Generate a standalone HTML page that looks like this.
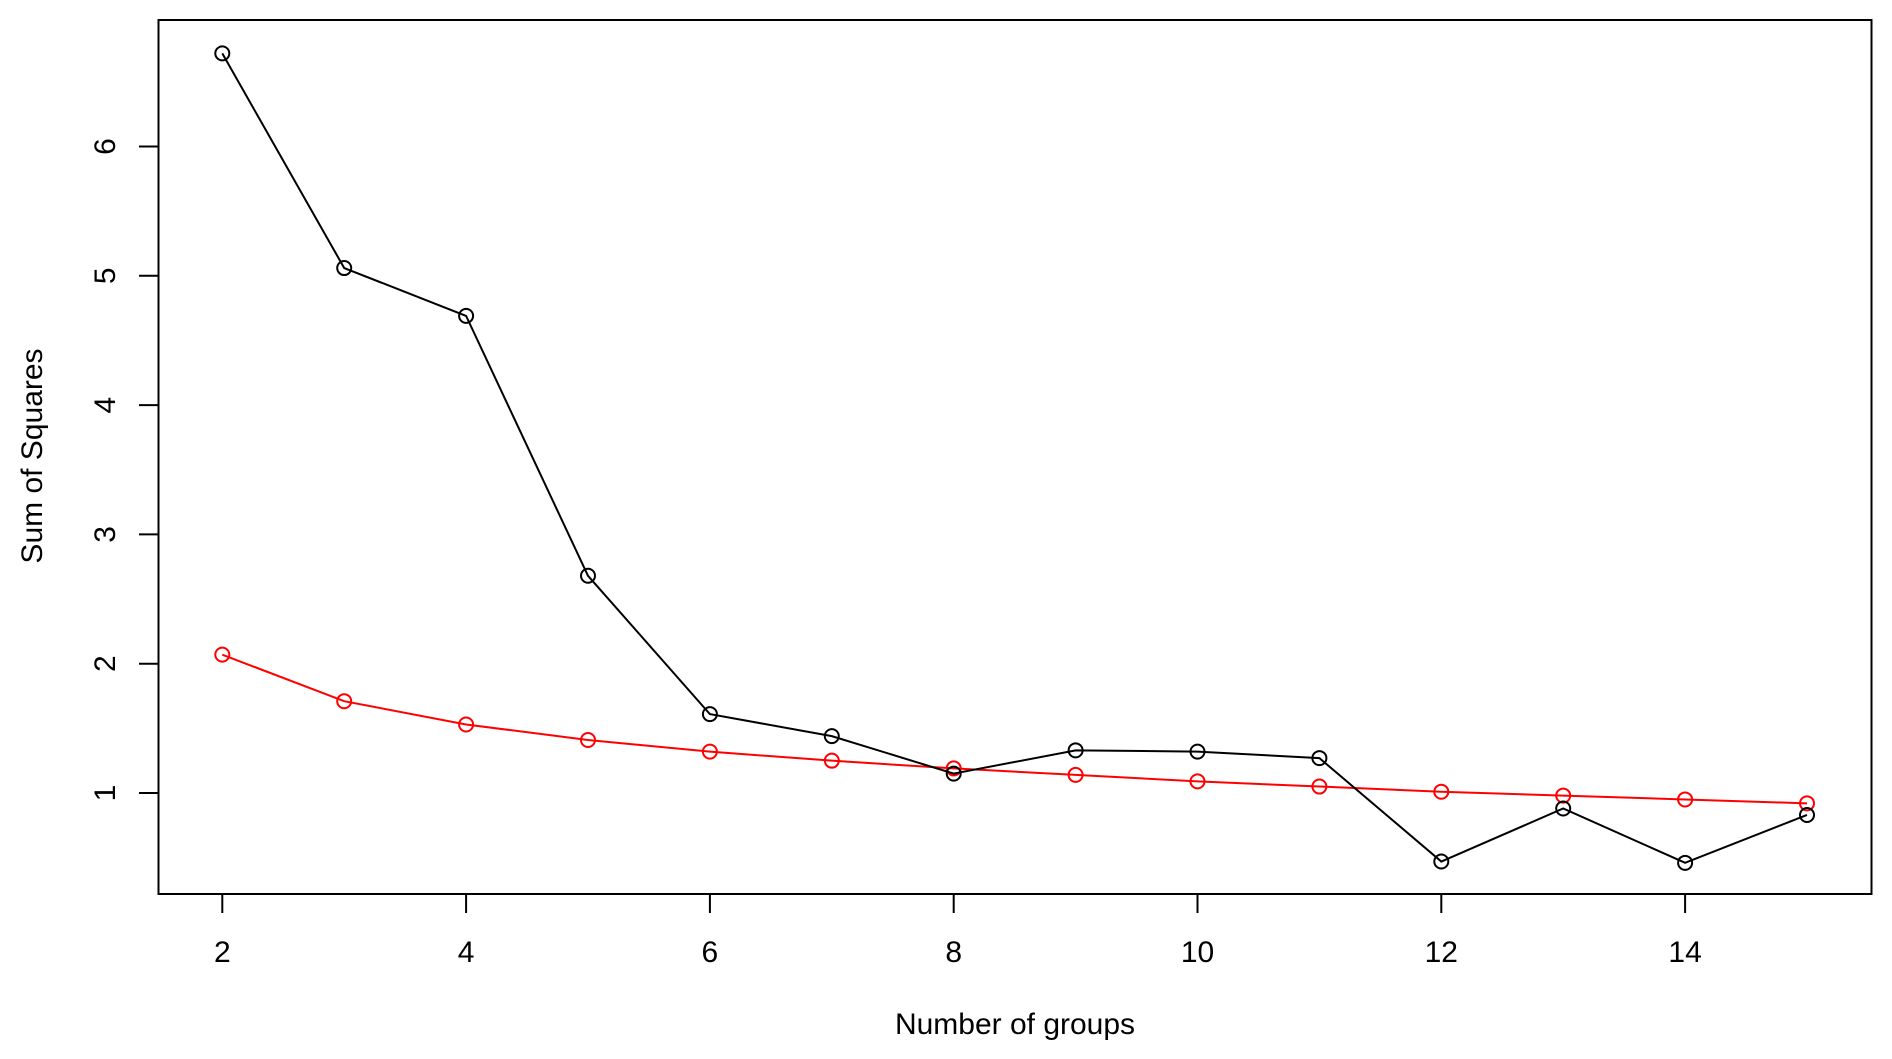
<!DOCTYPE html>
<html><head><meta charset="utf-8"><style>html,body{margin:0;padding:0;background:#fff}svg{display:block}</style></head>
<body>
<svg id="s" width="1892" height="1059" xmlns="http://www.w3.org/2000/svg" font-family="Liberation Sans, Arial, sans-serif">
<rect x="0" y="0" width="1892" height="1059" fill="#fff"/>
<rect x="158.5" y="20" width="1713" height="874" fill="none" stroke="#000" stroke-width="2"/>
<g id="g"></g>
<text x="1015" y="1034" font-size="30" text-anchor="middle">Number of groups</text>
<text transform="translate(42,456) rotate(-90)" font-size="30" text-anchor="middle">Sum of Squares</text>
</svg>
<script>
var g=document.getElementById('g'),h='';
function X(v){return 222.3+(v-2)*121.9}
function Y(v){return 793+(1-v)*129.3}
for(var v=2;v<=14;v+=2){h+='<line x1="'+X(v)+'" y1="894" x2="'+X(v)+'" y2="913" stroke="#000" stroke-width="2"/>';
h+='<text x="'+X(v)+'" y="962" font-size="30" text-anchor="middle">'+v+'</text>';}
for(var v=1;v<=6;v++){h+='<line x1="139" y1="'+Y(v)+'" x2="158.5" y2="'+Y(v)+'" stroke="#000" stroke-width="2"/>';
h+='<text transform="translate(115,'+Y(v)+') rotate(-90)" font-size="30" text-anchor="middle">'+v+'</text>';}
var b=[6.72,5.06,4.69,2.68,1.61,1.44,1.15,1.33,1.32,1.27,0.47,0.88,0.46,0.83];
var r=[2.07,1.71,1.53,1.41,1.32,1.25,1.19,1.14,1.09,1.05,1.01,0.98,0.95,0.92];
function ser(d,c){var p=d.map(function(v,i){return X(i+2)+','+Y(v)}).join(' ');
var s='<polyline points="'+p+'" fill="none" stroke="'+c+'" stroke-width="2"/>';
d.forEach(function(v,i){s+='<circle cx="'+X(i+2)+'" cy="'+Y(v)+'" r="7" fill="none" stroke="'+c+'" stroke-width="2"/>';});return s;}
h+=ser(r,'#ff0000');h+=ser(b,'#000');
g.innerHTML=h;
</script>
</body></html>
